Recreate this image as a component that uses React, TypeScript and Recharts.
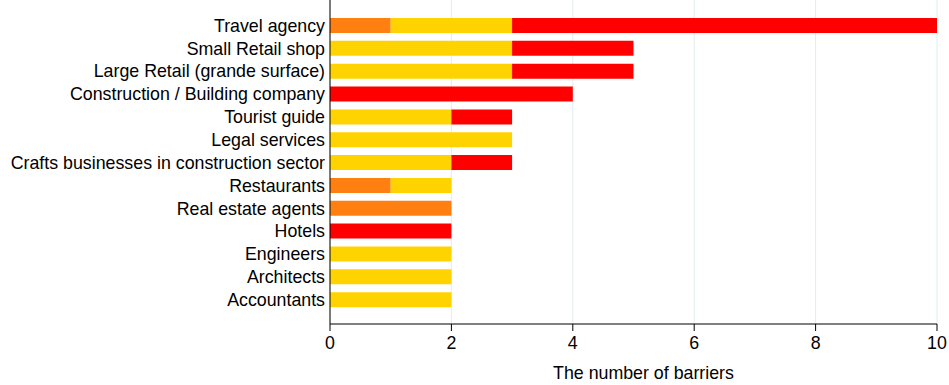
import { Bar, BarChart, CartesianGrid, XAxis, YAxis } from "recharts";

const categories = [
  "Travel agency",
  "Small Retail shop",
  "Large Retail (grande surface)",
  "Construction / Building company",
  "Tourist guide",
  "Legal services",
  "Crafts businesses in construction sector",
  "Restaurants",
  "Real estate agents",
  "Hotels",
  "Engineers",
  "Architects",
  "Accountants",
];
const orangeValues = [1, 0, 0, 0, 0, 0, 0, 1, 2, 0, 0, 0, 0];
const yellowValues = [2, 3, 3, 0, 2, 3, 2, 1, 0, 0, 2, 2, 2];
const redValues = [7, 2, 2, 4, 1, 0, 1, 0, 0, 2, 0, 0, 0];
const xTicks = [0, 2, 4, 6, 8, 10];

const data = categories.map((name, i) => ({
  name,
  orange: orangeValues[i],
  yellow: yellowValues[i],
  red: redValues[i],
}));

const font = "'Liberation Sans', Arial, sans-serif";
const tickStyle = { fill: "#000", fontSize: 17.8, fontFamily: font };

export default function App() {
  return (
    <div style={{ position: "absolute", left: 0, top: 0 }}>
      <BarChart
        width={949}
        height={385}
        data={data}
        layout="vertical"
        margin={{ top: 0, right: 12, left: 0, bottom: 0 }}
      >
        <CartesianGrid horizontal={false} stroke="#e2edf0" />
        <XAxis
          type="number"
          domain={[0, 10]}
          ticks={xTicks}
          height={61}
          stroke="#000"
          tick={tickStyle}
          tickSize={7}
          tickMargin={5}
          label={{
            value: "The number of barriers",
            position: "insideBottom",
            offset: 6,
            dx: 10,
            style: { fill: "#000", fontSize: 17.8, fontFamily: font },
          }}
        />
        <YAxis
          type="category"
          dataKey="name"
          width={330}
          stroke="#000"
          tick={tickStyle}
          tickLine={false}
          tickSize={0}
          tickMargin={5}
          interval={0}
          padding={{ top: 14, bottom: 13 }}
        />
        <Bar dataKey="orange" stackId="a" fill="#ff8010" barSize={15} isAnimationActive={false} />
        <Bar dataKey="yellow" stackId="a" fill="#ffd300" barSize={15} isAnimationActive={false} />
        <Bar dataKey="red" stackId="a" fill="#ff0000" barSize={15} isAnimationActive={false} />
      </BarChart>
    </div>
  );
}
